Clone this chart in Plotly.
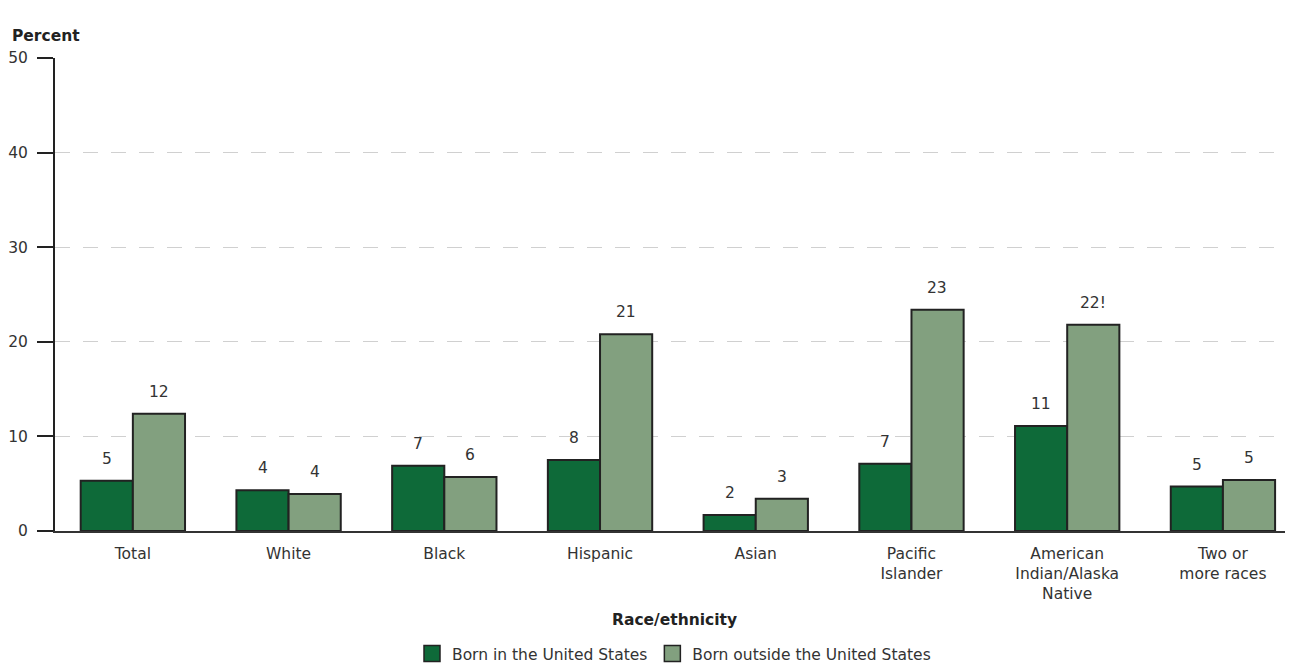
import plotly.graph_objects as go

categories = ["Total", "White", "Black", "Hispanic", "Asian", "Pacific<br>Islander",
              "American<br>Indian/Alaska<br>Native", "Two or<br>more races"]
born_us = [5.3, 4.3, 6.9, 7.5, 1.7, 7.1, 11.1, 4.7]
born_outside = [12.4, 3.9, 5.7, 20.8, 3.4, 23.4, 21.8, 5.4]
labels_us = ["5", "4", "7", "8", "2", "7", "11", "5"]
labels_outside = ["12", "4", "6", "21", "3", "23", "22!", "5"]
y_ticks = [0, 10, 20, 30, 40, 50]
series_names = ["Born in the United States", "Born outside the United States"]

FONT = "'DejaVu Sans', sans-serif"
FS = 15.5
dark = "#0e6a39"
light = "#82a07f"
edge = "#222222"
txt = "#333333"

x = list(range(len(categories)))
fig = go.Figure()
fig.add_trace(go.Bar(x=x, y=born_us, name=series_names[0], showlegend=False,
                     marker=dict(color=dark, line=dict(color=edge, width=2))))
fig.add_trace(go.Bar(x=x, y=born_outside, name=series_names[1], showlegend=False,
                     marker=dict(color=light, line=dict(color=edge, width=2))))
# legend entries with larger square swatches
for name, col in zip(series_names, [dark, light]):
    fig.add_trace(go.Scatter(x=[None], y=[None], mode="markers", name=name,
                             marker=dict(symbol="square", size=16, color=col,
                                         line=dict(color=edge, width=1.5))))

off = 0.167
for i in x:
    fig.add_annotation(x=i - off, y=born_us[i], text=labels_us[i], showarrow=False,
                       yshift=22, font=dict(size=FS, color=txt, family=FONT))
    fig.add_annotation(x=i + off, y=born_outside[i], text=labels_outside[i], showarrow=False,
                       yshift=22, font=dict(size=FS, color=txt, family=FONT))

fig.add_annotation(xref="paper", yref="paper", x=-0.0363, y=1.0, yshift=33, xanchor="left",
                   text="<b>Percent</b>", showarrow=False,
                   font=dict(size=15.5, color="#222", family=FONT))
fig.add_annotation(xref="paper", yref="paper", x=0.5, y=0, yshift=-100, xanchor="center",
                   text="<b>Race/ethnicity</b>", showarrow=False,
                   font=dict(size=15.5, color="#222", family=FONT))

fig.update_layout(
    width=1285, height=656,
    margin=dict(l=47, r=0, t=50, b=133, autoexpand=False),
    plot_bgcolor="white", paper_bgcolor="white",
    barmode="group", bargap=0.33, bargroupgap=0,
    font=dict(family=FONT, size=FS, color=txt),
    showlegend=True,
    legend=dict(orientation="h", x=0.5, xanchor="center", y=-0.26, yanchor="middle",
                font=dict(size=FS, color=txt, family=FONT), traceorder="normal",
                itemwidth=30),
    xaxis=dict(range=[-0.5, 7.45], tickvals=x, ticktext=categories, showgrid=False,
               showline=True, linecolor="#333", linewidth=2, ticks="", zeroline=False,
               ticklabelstandoff=7,
               automargin=False, tickfont=dict(size=FS, color=txt)),
    yaxis=dict(range=[0, 50], tickvals=y_ticks, showgrid=True, gridcolor="#d0d0d0",
               griddash="15px,13px", gridwidth=1, showline=True, linecolor="#222", linewidth=2,
               ticks="outside", ticklen=16, tickcolor="#222", tickwidth=2,
               ticklabelstandoff=6,
               zeroline=False, automargin=False, tickfont=dict(size=FS, color=txt)),
)
fig.write_html("out.html")
